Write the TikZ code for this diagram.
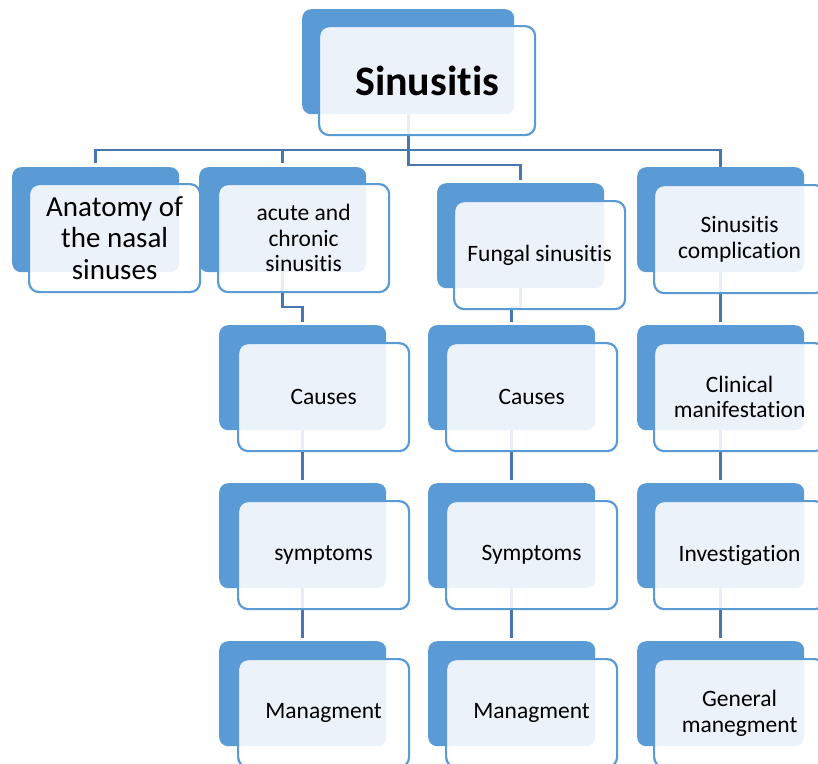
\documentclass[tikz,border=0pt]{standalone}
\usepackage{fontspec}
\setmainfont{Carlito}[Ligatures={NoCommon,NoContextual}]
\definecolor{backblue}{HTML}{5B9BD5}
\definecolor{edgeblue}{HTML}{5B9BD5}
\definecolor{linkblue}{HTML}{4677B0}
\pgfdeclarelayer{bg}
\pgfsetlayers{bg,main}
\tikzset{
  backbox/.style={fill=backblue, draw=none, rounded corners=9pt, anchor=north west,
    minimum width=167pt, minimum height=105pt, inner sep=0pt},
  frontbox/.style={fill=white, fill opacity=0.88, text opacity=1, draw=edgeblue, line width=2.2pt,
    rounded corners=10pt, anchor=north west, minimum width=171pt, minimum height=108pt,
    inner sep=2pt, align=center, font=\fontsize{23.5}{25.5}\selectfont},
  conn/.style={draw=linkblue, line width=2.6pt},
}
\begin{document}
\begin{tikzpicture}[x=1pt,y=-1pt]
\useasboundingbox (0,0) rectangle (818,763);
\clip (0,0) rectangle (818,763);
% root
\node[backbox, minimum width=212pt] (rb) at (302,9) {};
\node[frontbox, minimum width=216pt, minimum height=109pt, font=\fontsize{42}{46}\selectfont\bfseries] (rf) at (318,25) {Sinusitis};
% level 1
\node[backbox] (ab) at (12,167) {};
\node[frontbox, font=\fontsize{29}{31.5}\selectfont] (af) at (28,183) {Anatomy of\\the nasal\\sinuses};
\node[backbox] (bb) at (199,167) {};
\node[frontbox] (bf) at (217,183) {acute and\\chronic\\sinusitis};
\node[backbox] (cb) at (437,183) {};
\node[frontbox] (cf) at (453,200) {Fungal sinusitis};
\node[backbox] (db) at (637,167) {};
\node[frontbox] (df) at (653,184) {Sinusitis\\complication};
% column 2
\node[backbox] (b1b) at (219,325) {};
\node[frontbox] (b1f) at (237,342) {Causes};
\node[backbox] (b2b) at (219,483) {};
\node[frontbox] (b2f) at (237,500) {symptoms};
\node[backbox] (b3b) at (219,641) {};
\node[frontbox] (b3f) at (237,658) {Managment};
% column 3
\node[backbox] (c1b) at (428,325) {};
\node[frontbox] (c1f) at (445,342) {Causes};
\node[backbox] (c2b) at (428,483) {};
\node[frontbox] (c2f) at (445,500) {Symptoms};
\node[backbox] (c3b) at (428,641) {};
\node[frontbox] (c3f) at (445,658) {Managment};
% column 4
\node[backbox] (d1b) at (637,325) {};
\node[frontbox] (d1f) at (653,342) {Clinical\\manifestation};
\node[backbox] (d2b) at (637,483) {};
\node[frontbox] (d2f) at (653,500) {Investigation};
\node[backbox] (d3b) at (637,641) {};
\node[frontbox] (d3f) at (653,658) {General\\manegment};
\coordinate (bus) at (0,150);
\coordinate (bustwo) at (0,165);
\coordinate (elbow) at (0,307);
\begin{pgfonlayer}{bg}
\fill[white] (0,0) rectangle (818,763);
\draw[conn] (rb.south) -- (rb.south |- bus);
\draw[conn, shorten <=4pt] (ab.north) -- (ab.north |- bus) -- (db.north |- bus) -- (db.north);
\draw[conn, shorten <=4pt] (bb.north) -- (bb.north |- bus);
\draw[conn, shorten >=3pt] (rb.south) -- (rb.south |- bustwo) -- (cb.north |- bustwo) -- (cb.north);
\draw[conn, shorten >=3pt] (bb.south) -- (bb.south |- elbow) -- (b1b.north |- elbow) -- (b1b.north);
\draw[conn, shorten >=3pt] (cb.south) -- (cb.south |- elbow) -- (c1b.north |- elbow) -- (c1b.north);
\draw[conn, shorten >=3pt] (db.south) -- (d1b.north);
\draw[conn, shorten >=3pt] (b1b.south) -- (b2b.north);
\draw[conn, shorten >=3pt] (b2b.south) -- (b3b.north);
\draw[conn, shorten >=3pt] (c1b.south) -- (c2b.north);
\draw[conn, shorten >=3pt] (c2b.south) -- (c3b.north);
\draw[conn, shorten >=3pt] (d1b.south) -- (d2b.north);
\draw[conn, shorten >=3pt] (d2b.south) -- (d3b.north);
\end{pgfonlayer}
\end{tikzpicture}
\end{document}
